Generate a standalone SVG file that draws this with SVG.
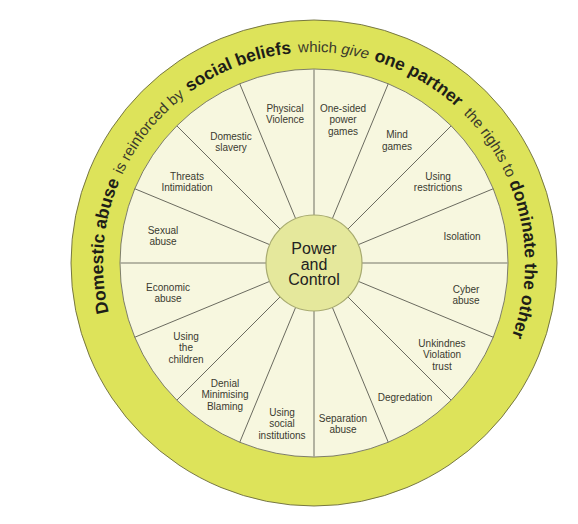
<svg xmlns="http://www.w3.org/2000/svg" xmlns:xlink="http://www.w3.org/1999/xlink" width="578" height="524" viewBox="0 0 578 524">
<style>
.lbl{font-family:"Liberation Sans",Arial,sans-serif;font-size:10px;fill:#3a3a30;text-anchor:middle}
.b{font-family:"Liberation Sans",Arial,sans-serif;font-size:17.5px;font-weight:bold;fill:#1e1e18}
.r{font-family:"Liberation Sans",Arial,sans-serif;font-size:15px;fill:#3a3a2c}
.sp{stroke:#5a5a50;stroke-width:0.9}
.sp2{stroke:#a0a090;stroke-width:1.6}
.ctr{font-family:"Liberation Sans",Arial,sans-serif;font-size:16px;fill:#222;text-anchor:middle}
</style>
<defs>
<path id="ring" d="M131.27,368.5 A211,211 0 1 1 496.73,368.5" fill="none"/>
</defs>
<rect width="578" height="524" fill="#ffffff"/>
<g id="outer-ring">
<circle cx="314" cy="263" r="243" fill="#dde35a" stroke="#6a6a3a" stroke-width="0.9"/>
<circle cx="314" cy="263" r="194" fill="#f7f7df" stroke="#707060" stroke-width="0.9"/>
</g>
<g id="connectors">
<line class="sp2" x1="314" y1="215" x2="314" y2="69"/>
<line class="sp" x1="332.37" y1="218.65" x2="388.24" y2="83.77"/>
<line class="sp" x1="347.94" y1="229.06" x2="451.18" y2="125.82"/>
<line class="sp" x1="358.35" y1="244.63" x2="493.23" y2="188.76"/>
<line class="sp2" x1="362" y1="263" x2="508" y2="263"/>
<line class="sp" x1="358.35" y1="281.37" x2="493.23" y2="337.24"/>
<line class="sp" x1="347.94" y1="296.94" x2="451.18" y2="400.18"/>
<line class="sp" x1="332.37" y1="307.35" x2="388.24" y2="442.23"/>
<line class="sp2" x1="314" y1="311" x2="314" y2="457"/>
<line class="sp" x1="295.63" y1="307.35" x2="239.76" y2="442.23"/>
<line class="sp" x1="280.06" y1="296.94" x2="176.82" y2="400.18"/>
<line class="sp" x1="269.65" y1="281.37" x2="134.77" y2="337.24"/>
<line class="sp2" x1="266" y1="263" x2="120" y2="263"/>
<line class="sp" x1="269.65" y1="244.63" x2="134.77" y2="188.76"/>
<line class="sp" x1="280.06" y1="229.06" x2="176.82" y2="125.82"/>
<line class="sp" x1="295.63" y1="218.65" x2="239.76" y2="83.77"/>
</g>
<g id="ring-text">
<text class="b"><textPath xlink:href="#ring" href="#ring" startOffset="60.4">Domestic abuse</textPath></text>
<text class="r"><textPath xlink:href="#ring" href="#ring" startOffset="201.1">is reinforced by</textPath></text>
<text class="b"><textPath xlink:href="#ring" href="#ring" startOffset="309.3">social beliefs</textPath></text>
<text class="r"><textPath xlink:href="#ring" href="#ring" startOffset="426.1">which <tspan font-style="italic">give</tspan></textPath></text>
<text class="b"><textPath xlink:href="#ring" href="#ring" startOffset="501.9">one partner</textPath></text>
<text class="r"><textPath xlink:href="#ring" href="#ring" startOffset="607.6">the rights to</textPath></text>
<text class="b"><textPath xlink:href="#ring" href="#ring" startOffset="690.5">dominate the other</textPath></text>
</g>
<g id="center">
<circle cx="314" cy="263" r="48" fill="#e5e89c" stroke="#a8ab70" stroke-width="1.2"/>
<text class="ctr" x="314" y="254">Power</text>
<text class="ctr" x="314" y="269.5">and</text>
<text class="ctr" x="314" y="285">Control</text>
</g>
<g id="physical-violence"><text class="lbl" x="285" y="111.5">Physical</text><text class="lbl" x="285" y="123">Violence</text></g>
<g id="one-sided-power-games"><text class="lbl" x="343" y="111.5">One-sided</text><text class="lbl" x="343" y="123">power</text><text class="lbl" x="343" y="134.5">games</text></g>
<g id="mind-games"><text class="lbl" x="397" y="138">Mind</text><text class="lbl" x="397" y="149.5">games</text></g>
<g id="using-restrictions"><text class="lbl" x="438" y="179.5">Using</text><text class="lbl" x="438" y="191">restrictions</text></g>
<g id="isolation"><text class="lbl" x="462" y="239.5">Isolation</text></g>
<g id="cyber-abuse"><text class="lbl" x="466" y="292.5">Cyber</text><text class="lbl" x="466" y="304">abuse</text></g>
<g id="unkindnes-violation-trust"><text class="lbl" x="442" y="346.5">Unkindnes</text><text class="lbl" x="442" y="358">Violation</text><text class="lbl" x="442" y="369.5">trust</text></g>
<g id="degredation"><text class="lbl" x="405" y="400.5">Degredation</text></g>
<g id="separation-abuse"><text class="lbl" x="343" y="421.5">Separation</text><text class="lbl" x="343" y="433">abuse</text></g>
<g id="using-social-institutions"><text class="lbl" x="282" y="415.5">Using</text><text class="lbl" x="282" y="427">social</text><text class="lbl" x="282" y="438.5">institutions</text></g>
<g id="denial-minimising-blaming"><text class="lbl" x="225" y="386.5">Denial</text><text class="lbl" x="225" y="398">Minimising</text><text class="lbl" x="225" y="409.5">Blaming</text></g>
<g id="using-the-children"><text class="lbl" x="186" y="339.5">Using</text><text class="lbl" x="186" y="351">the</text><text class="lbl" x="186" y="362.5">children</text></g>
<g id="economic-abuse"><text class="lbl" x="168" y="290.5">Economic</text><text class="lbl" x="168" y="302">abuse</text></g>
<g id="sexual-abuse"><text class="lbl" x="163" y="233.5">Sexual</text><text class="lbl" x="163" y="245">abuse</text></g>
<g id="threats-intimidation"><text class="lbl" x="187" y="179.5">Threats</text><text class="lbl" x="187" y="191">Intimidation</text></g>
<g id="domestic-slavery"><text class="lbl" x="231" y="139.5">Domestic</text><text class="lbl" x="231" y="151">slavery</text></g>
</svg>
